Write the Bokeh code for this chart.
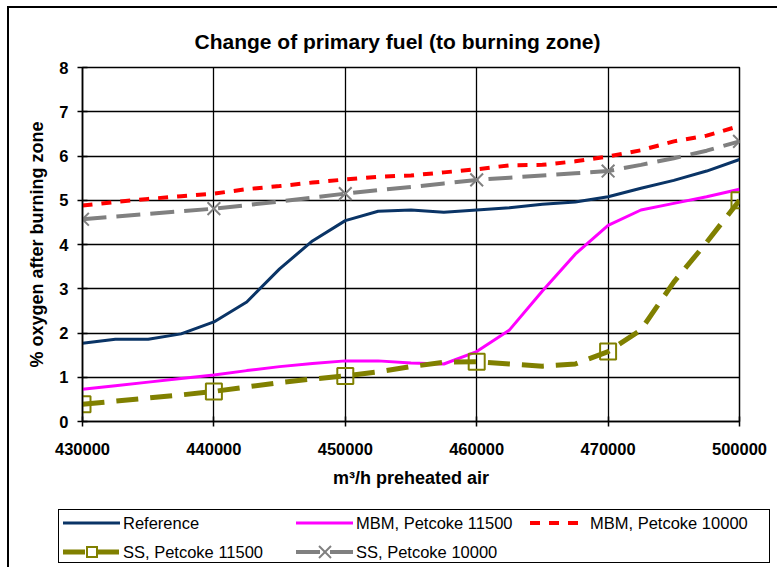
from bokeh.plotting import figure
from bokeh.models import FixedTicker, Div
from bokeh.layouts import column
from bokeh.embed import file_html
from bokeh.resources import INLINE

# Category axis (equally spaced categories, Excel line chart)
categories = ["430000", "440000", "450000", "460000", "470000", "500000"]
cat_pos = [0, 1, 2, 3, 4, 5]
# positions of the sampled points along the category axis (quarter steps)
pos = [0, 0.25, 0.5, 0.75, 1, 1.25, 1.5, 1.75, 2, 2.25, 2.5, 2.75,
       3, 3.25, 3.5, 3.75, 4, 4.25, 4.5, 4.75, 5]

reference = [1.77, 1.86, 1.86, 1.98, 2.25, 2.70, 3.45, 4.08, 4.54, 4.75, 4.78,
             4.73, 4.78, 4.83, 4.91, 4.96, 5.08, 5.27, 5.45, 5.66, 5.92]
mbm_11500 = [0.73, 0.81, 0.89, 0.97, 1.05, 1.15, 1.24, 1.31, 1.37, 1.37, 1.32,
             1.30, 1.58, 2.07, 2.95, 3.78, 4.43, 4.78, 4.93, 5.08, 5.25]
mbm_10000 = [4.88, 4.96, 5.03, 5.09, 5.15, 5.25, 5.32, 5.40, 5.47, 5.53, 5.56,
             5.63, 5.70, 5.79, 5.80, 5.88, 5.99, 6.13, 6.33, 6.46, 6.68]
ss_11500 = [0.39, 0.46, 0.53, 0.60, 0.68, 0.78, 0.88, 0.96, 1.03, 1.12, 1.24,
            1.34, 1.35, 1.30, 1.25, 1.30, 1.58, 2.07, 3.15, 4.05, 5.00]
ss_10000 = [4.57, 4.63, 4.69, 4.75, 4.81, 4.89, 4.97, 5.06, 5.15, 5.23, 5.30,
            5.38, 5.46, 5.51, 5.56, 5.61, 5.66, 5.80, 5.95, 6.12, 6.33]

y_ticks = [0, 1, 2, 3, 4, 5, 6, 7, 8]

series_names = ["Reference", "MBM, Petcoke 11500", "MBM, Petcoke 10000",
                "SS, Petcoke 11500", "SS, Petcoke 10000"]

FONT = "Liberation Sans"

# styles per series
line_styles = [
    dict(line_color="#0a3466", line_width=3),
    dict(line_color="#ff00ff", line_width=3),
    dict(line_color="#ff0000", line_width=4, line_dash="10 9"),
    dict(line_color="#808000", line_width=5, line_dash="22 12"),
    dict(line_color="#808080", line_width=4, line_dash="24 10"),
]
marker_styles = {
    3: dict(marker="square", size=16, fill_color=None, line_color="#808000",
            line_width=2),
    4: dict(marker="x", size=18, line_color="#808080", line_width=2),
}

p = figure(width=768, height=500, x_range=(0, 5), y_range=(0, 8),
           output_backend="svg", toolbar_location=None,
           min_border_left=73, min_border_right=38, min_border_top=59,
           min_border_bottom=87,
           title="Change of primary fuel (to burning zone)")

p.title.text_font = FONT
p.title.text_font_size = "21px"
p.title.text_font_style = "bold"
p.title.align = "left"
p.title.offset = 112
p.title.standoff = 29
p.title.text_color = "black"

p.outline_line_color = "black"
p.outline_line_width = 1.5

# Axes
p.xaxis.ticker = FixedTicker(ticks=cat_pos)
p.xaxis.major_label_overrides = {c: lab for c, lab in zip(cat_pos, categories)}
p.yaxis.ticker = FixedTicker(ticks=y_ticks)
for ax in (p.xaxis[0], p.yaxis[0]):
    ax.axis_line_color = "black"
    ax.axis_line_width = 1.5
    ax.major_tick_line_color = "black"
    ax.major_tick_line_width = 1.5
    ax.major_tick_in = 5
    ax.major_tick_out = 5
    ax.minor_tick_line_color = None
    ax.major_label_text_font = FONT
    ax.major_label_text_font_style = "bold"
    ax.major_label_text_font_size = "16.5px"
    ax.major_label_text_color = "black"
    ax.axis_label_text_font = FONT
    ax.axis_label_text_font_style = "bold"
    ax.axis_label_text_font_size = "18px"
    ax.axis_label_text_color = "black"

p.xaxis.axis_label = "m\u00b3/h preheated air"
p.yaxis.axis_label = "% oxygen after burning zone"
p.xaxis.major_label_standoff = 16
p.xaxis.axis_label_standoff = 10
p.yaxis.major_label_standoff = 9
p.yaxis.axis_label_standoff = 9

p.xgrid.ticker = FixedTicker(ticks=cat_pos)
p.ygrid.ticker = FixedTicker(ticks=y_ticks)
for g in (p.xgrid[0], p.ygrid[0]):
    g.grid_line_color = "black"
    g.grid_line_width = 1.3

# Series
series_values = [reference, mbm_11500, mbm_10000, ss_11500, ss_10000]
for k, vals in enumerate(series_values):
    p.line(pos, vals, **line_styles[k])
    if k in marker_styles:
        p.scatter([pos[i] for i in range(0, len(pos), 4)],
                  [vals[i] for i in range(0, len(pos), 4)],
                  **marker_styles[k])


# ---- legend box (below the chart, as in the original) ----
def swatch(k):
    st = line_styles[k]
    dash = st.get("line_dash", "")
    dash_attr = f' stroke-dasharray="{dash}"' if dash else ""
    svg = (f'<svg width="57" height="22" style="display:block">'
           f'<line x1="0" y1="11" x2="57" y2="11" stroke="{st["line_color"]}" '
           f'stroke-width="{st["line_width"]}"{dash_attr}/>')
    if k in marker_styles:
        m = marker_styles[k]
        c = m["line_color"]
        if m["marker"] == "square":
            svg += (f'<rect x="24" y="6" width="10" height="10" fill="white" '
                    f'stroke="{c}" stroke-width="2"/>')
        else:
            svg += (f'<line x1="23" y1="5" x2="35" y2="17" stroke="{c}" '
                    f'stroke-width="2"/><line x1="23" y1="17" x2="35" y2="5" '
                    f'stroke="{c}" stroke-width="2"/>')
    return svg + "</svg>"


col_x = [54, 287, 521]      # left of each legend column (px in the strip)
row_y = [4, 33]             # top of each legend row
entries = []
for k, name in enumerate(series_names):
    r, c = divmod(k, 3)
    entries.append(
        f'<div style="position:absolute;left:{col_x[c]}px;top:{row_y[r]}px;'
        f'height:22px;display:flex;align-items:center;white-space:nowrap;">'
        f'{swatch(k)}<span style="margin-left:3px;font-family:\'{FONT}\';'
        f'font-size:16.5px;color:black;line-height:22px;">{name}</span></div>')

legend_html = (
    '<div style="position:relative;width:768px;height:59px;margin:0;padding:0;">'
    '<div style="position:absolute;left:49px;top:1px;width:712px;height:54px;'
    'border:1.5px solid black;background:white;"></div>'
    + "".join(entries) + '</div>')

legend_div = Div(text=legend_html, width=768, height=59, margin=0)

layout = column(p, legend_div, spacing=0)
# outer chart border (left/top visible; right/bottom beyond the window)
layout.styles = {"margin-left": "7px", "margin-top": "6px",
                 "border-left": "2px solid black",
                 "border-top": "2px solid black"}

open("out.html", "w").write(file_html(layout, INLINE))
